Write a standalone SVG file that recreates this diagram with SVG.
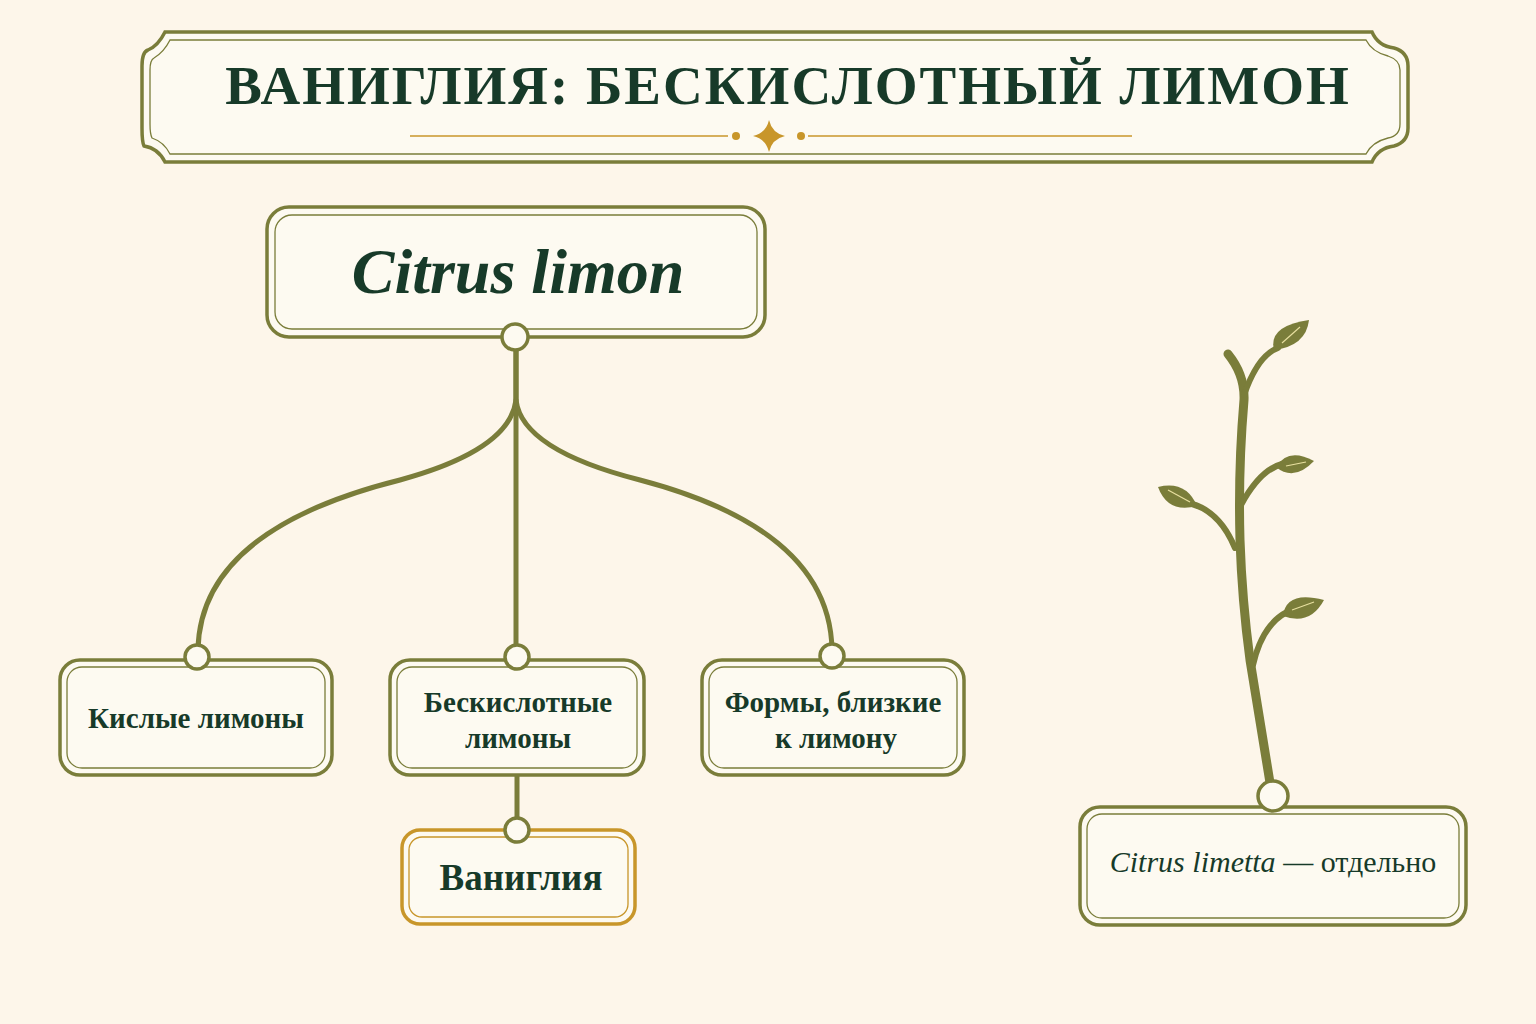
<svg xmlns="http://www.w3.org/2000/svg" width="1536" height="1024" viewBox="0 0 1536 1024">
<style>
.box{fill:#fdfaf1;stroke:#7a7d3a;stroke-width:3.5}
.inner{fill:none;stroke:#7a7d3a;stroke-width:1.3}
.t{font-family:"Liberation Serif",serif;font-weight:bold;fill:#173a29;text-anchor:middle}
.con{fill:none;stroke:#7a7d3a;stroke-width:5;stroke-linecap:round}
.dot{fill:#fdfaf1;stroke:#7a7d3a;stroke-width:3.5}
.leaf{fill:#7a7d3a}
.vein{stroke:#e8e0a0;stroke-width:1.2}
.gold{stroke:#c8962a}
</style>
<rect width="1536" height="1024" fill="#fdf6ea"/>
<g id="title">
<path class="box" d="M165 32 H1372 Q1378 46 1394 48 Q1408 52 1408 66 V128 Q1408 142 1394 146 Q1378 148 1372 162 H165 Q158 148 144 146 Q142 142 142 128 V66 Q142 52 148 50 Q158 46 165 32 Z"/>
<path class="inner" d="M170 40 H1366 Q1372 52 1388 56 Q1400 60 1400 70 V124 Q1400 136 1388 138 Q1372 142 1366 154 H170 Q164 142 152 138 Q150 134 150 124 V70 Q150 60 154 58 Q164 52 170 40 Z"/>
<text class="t" x="788" y="104" font-size="55" letter-spacing="2">ВАНИГЛИЯ: БЕСКИСЛОТНЫЙ ЛИМОН</text>
<line x1="410" y1="136" x2="728" y2="136" stroke="#c8962a" stroke-width="1.5"/>
<line x1="808" y1="136" x2="1132" y2="136" stroke="#c8962a" stroke-width="1.5"/>
<circle cx="736" cy="136" r="4" fill="#c8962a"/><circle cx="801" cy="136" r="4" fill="#c8962a"/>
<path d="M769 120 Q772 133 785 136 Q772 139 769 152 Q766 139 753 136 Q766 133 769 120Z" fill="#c8962a"/>
</g>
<g id="connectors">
<path class="con" d="M516 338 V400 Q510 450 400 480 Q200 530 198 650"/>
<path class="con" d="M516 338 V656"/>
<path class="con" d="M516 400 Q522 450 640 480 Q830 530 832 650"/>
<path class="con" d="M517 776 V828"/>
</g>
<g id="root">
<rect class="box" x="267" y="207" width="498" height="130" rx="22"/>
<rect class="inner" x="275" y="215" width="482" height="114" rx="17"/>
<text class="t" x="518" y="293" font-size="64" font-style="italic">Citrus limon</text>
<circle class="dot" cx="515" cy="337" r="13"/>
</g>
<g id="n1">
<rect class="box" x="60" y="660" width="272" height="115" rx="20"/>
<rect class="inner" x="67" y="667" width="258" height="101" rx="15"/>
<text class="t" x="196" y="728" font-size="29">Кислые лимоны</text>
<circle class="dot" cx="197" cy="657" r="12"/>
</g>
<g id="n2">
<rect class="box" x="390" y="660" width="254" height="115" rx="20"/>
<rect class="inner" x="397" y="667" width="240" height="101" rx="15"/>
<text class="t" x="518" y="712" font-size="29">Бескислотные</text>
<text class="t" x="518" y="748" font-size="29">лимоны</text>
<circle class="dot" cx="517" cy="657" r="12"/>
</g>
<g id="n3">
<rect class="box" x="702" y="660" width="262" height="115" rx="20"/>
<rect class="inner" x="709" y="667" width="248" height="101" rx="15"/>
<text class="t" x="833" y="712" font-size="29">Формы, близкие</text>
<text class="t" x="836" y="748" font-size="29">к лимону</text>
<circle class="dot" cx="832" cy="656" r="12"/>
</g>
<g id="n4">
<rect class="box gold" x="402" y="830" width="233" height="94" rx="18"/>
<rect class="inner gold" x="409" y="837" width="219" height="80" rx="13"/>
<text class="t" x="521" y="890" font-size="37">Ваниглия</text>
<circle class="dot" cx="517" cy="830" r="12"/>
</g>
<g id="plant">
<path d="M1272 795 L1250 660 Q1242 600 1240 540 Q1238 470 1244 400 Q1245 375 1228 354" fill="none" stroke="#7a7d3a" stroke-width="9" stroke-linecap="round"/>
<path d="M1244 395 Q1258 355 1278 348" fill="none" stroke="#7a7d3a" stroke-width="6" stroke-linecap="round"/>
<path d="M1241 505 Q1260 470 1282 464" fill="none" stroke="#7a7d3a" stroke-width="6" stroke-linecap="round"/>
<path d="M1235 548 Q1220 512 1192 504" fill="none" stroke="#7a7d3a" stroke-width="6" stroke-linecap="round"/>
<path d="M1253 665 Q1262 625 1287 612" fill="none" stroke="#7a7d3a" stroke-width="6" stroke-linecap="round"/>
<path class="leaf" d="M1274 350 Q1268 326 1309 320 Q1306 346 1274 350Z"/><line class="vein" x1="1282" y1="343" x2="1300" y2="327"/>
<path class="leaf" d="M1276 467 Q1288 447 1314 461 Q1294 482 1276 467Z"/><line class="vein" x1="1286" y1="466" x2="1306" y2="462"/>
<path class="leaf" d="M1197 506 Q1186 480 1158 487 Q1168 514 1197 506Z"/><line class="vein" x1="1168" y1="490" x2="1190" y2="502"/>
<path class="leaf" d="M1283 616 Q1286 590 1324 600 Q1310 626 1283 616Z"/><line class="vein" x1="1292" y1="610" x2="1314" y2="602"/>
</g>
<g id="n5">
<rect class="box" x="1080" y="807" width="386" height="118" rx="20"/>
<rect class="inner" x="1087" y="814" width="372" height="104" rx="15"/>
<text class="t" x="1273" y="872" font-size="30" style="font-weight:normal"><tspan font-style="italic">Citrus limetta</tspan> — отдельно</text>
<circle class="dot" cx="1273" cy="796" r="15"/>
</g>
</svg>
